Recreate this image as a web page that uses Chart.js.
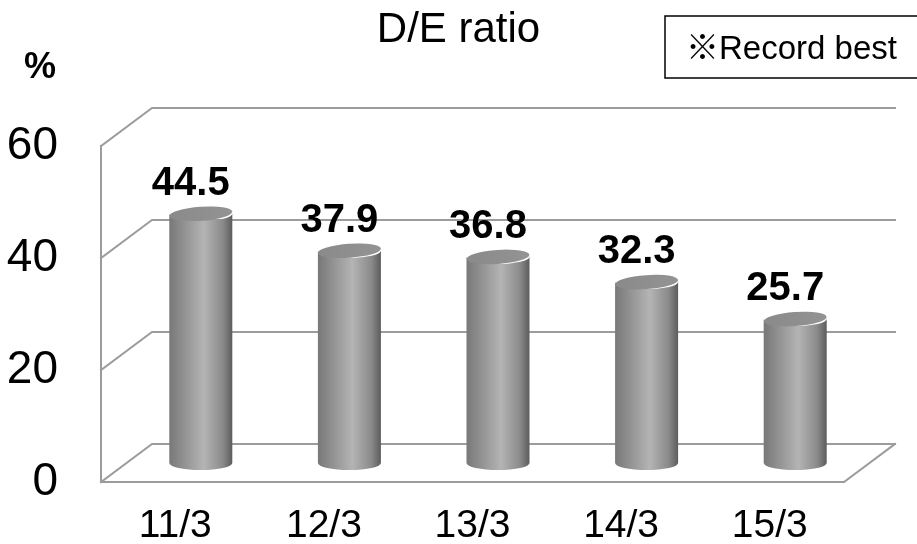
<!DOCTYPE html>
<html>
<head>
<meta charset="utf-8">
<script src="https://cdn.jsdelivr.net/npm/chart.js@4"></script>
<style>
  html, body { margin: 0; padding: 0; background: #fff; }
  canvas { display: block; }
</style>
</head>
<body>
<canvas id="chart" width="917" height="544"></canvas>
<script>
// Fiscal year-ends (year/month) and the debt-to-equity ratio in percent
const categories = ['11/3', '12/3', '13/3', '14/3', '15/3'];
const deRatio = [44.5, 37.9, 36.8, 32.3, 25.7];
const yTicks = [0, 20, 40, 60];
const titleText = 'D/E ratio';
const unitText = '%';
const noteText = '※Record best';

// Half of the 3D depth: the back wall sits (+DX, -DY) from the bar plane, the front edge (-DX, +DY)
const DX = 25.5;
const DY = 19;
const FONT = "'Liberation Sans', 'Noto Sans CJK JP', sans-serif";

Chart.defaults.font.family = FONT;
Chart.defaults.color = '#000';

const frame3d = {
  id: 'frame3d',
  beforeDatasetsDraw(chart) {
    const { ctx, chartArea } = chart;
    const y = chart.scales.y;
    const L = chartArea.left, R = chartArea.right;
    ctx.save();
    ctx.strokeStyle = '#9c9c9c';
    ctx.lineWidth = 2;
    ctx.lineCap = 'square';
    y.ticks.forEach(t => {
      const py = y.getPixelForValue(t.value);
      ctx.beginPath();
      ctx.moveTo(L - DX, py + DY);
      ctx.lineTo(L + DX, py - DY);
      ctx.lineTo(R + DX, py - DY);
      ctx.stroke();
    });
    const y0 = y.getPixelForValue(y.min);
    const yMax = y.getPixelForValue(y.max);
    ctx.beginPath();
    ctx.moveTo(L - DX, yMax + DY);
    ctx.lineTo(L - DX, y0 + DY);
    ctx.lineTo(R - DX, y0 + DY);
    ctx.lineTo(R + DX, y0 - DY);
    ctx.stroke();
    ctx.restore();
  },
  afterDatasetsDraw(chart) {
    const { ctx } = chart;
    const meta = chart.getDatasetMeta(0);
    const values = chart.data.datasets[0].data;
    ctx.save();
    meta.data.forEach((bar, i) => {
      const { x, y, base, width } = bar.getProps(['x', 'y', 'base', 'width'], true);
      const rx = width / 2, ry = 7;
      // body of the cylinder
      const g = ctx.createLinearGradient(x - rx, 0, x + rx, 0);
      g.addColorStop(0, '#787878');
      g.addColorStop(0.55, '#b4b4b4');
      g.addColorStop(0.85, '#8a8a8a');
      g.addColorStop(1, '#5c5c5c');
      ctx.beginPath();
      ctx.moveTo(x - rx, y);
      ctx.lineTo(x - rx, base);
      ctx.ellipse(x, base, rx, ry, 0, Math.PI, 0, true);
      ctx.lineTo(x + rx, y);
      ctx.ellipse(x, y, rx, ry, 0, 0, Math.PI, false);
      ctx.closePath();
      ctx.fillStyle = g;
      ctx.fill();
      // top cap
      const gt = ctx.createLinearGradient(x - rx, 0, x + rx, 0);
      gt.addColorStop(0, '#8a8a8a');
      gt.addColorStop(1, '#939393');
      ctx.beginPath();
      ctx.ellipse(x, y, rx, ry, -0.07, 0, Math.PI * 2);
      ctx.fillStyle = gt;
      ctx.fill();
      // value label
      ctx.fillStyle = '#000';
      ctx.font = 'bold 40px ' + FONT;
      ctx.textAlign = 'center';
      ctx.textBaseline = 'alphabetic';
      ctx.fillText(values[i].toFixed(1), x - 10, y - 19);
    });
    ctx.restore();
  },
  afterDraw(chart) {
    const { ctx } = chart;
    ctx.save();
    // unit above the value axis
    ctx.fillStyle = '#000';
    ctx.font = 'bold 36px ' + FONT;
    ctx.textAlign = 'center';
    ctx.textBaseline = 'middle';
    ctx.fillText(unitText, 40, 68);
    // note box in the top-right corner
    ctx.strokeStyle = '#000';
    ctx.lineWidth = 1.5;
    ctx.strokeRect(665, 16, 260, 62);
    ctx.font = '33px ' + FONT;
    ctx.textAlign = 'left';
    ctx.fillText(noteText, 686, 50);
    ctx.restore();
  }
};

// keep the value axis labels from reserving extra room above/below the plot
function noEdgePadding(scale) {
  scale.paddingTop = 0;
  scale.paddingBottom = 0;
}

new Chart(document.getElementById('chart'), {
  type: 'bar',
  data: {
    labels: categories,
    datasets: [{
      data: deRatio,
      backgroundColor: 'rgba(0,0,0,0)',
      borderWidth: 0,
      barPercentage: 0.424,
      categoryPercentage: 1
    }]
  },
  options: {
    responsive: false,
    animation: false,
    events: [],
    layout: { padding: { left: 3, right: 3, top: 0, bottom: 0 } },
    plugins: {
      legend: { display: false },
      tooltip: { enabled: false },
      title: {
        display: true,
        text: titleText,
        font: { size: 42, weight: 'normal' },
        color: '#000',
        padding: { top: 5, bottom: 71.6 }
      }
    },
    scales: {
      x: {
        grid: { display: false, drawTicks: false },
        border: { display: false },
        ticks: { font: { size: 39 }, padding: 40, labelOffset: -DX, color: '#000' },
        afterFit(scale) { scale.height = 81; }
      },
      y: {
        min: 0,
        max: 60,
        afterBuildTicks(scale) { scale.ticks = yTicks.map(v => ({ value: v })); },
        grid: { display: false, drawTicks: false },
        border: { display: false },
        ticks: { font: { size: 46 }, padding: 68.5, labelOffset: DY, color: '#000' },
        afterFit(scale) { scale.width = 123.5; noEdgePadding(scale); }
      },
      // empty right-hand strip that leaves room for the depth of the floor
      yRight: {
        position: 'right',
        display: true,
        grid: { display: false, drawTicks: false },
        border: { display: false },
        ticks: { display: false },
        afterFit(scale) { scale.width = 44.5; noEdgePadding(scale); }
      }
    }
  },
  plugins: [frame3d]
});
</script>
</body>
</html>
